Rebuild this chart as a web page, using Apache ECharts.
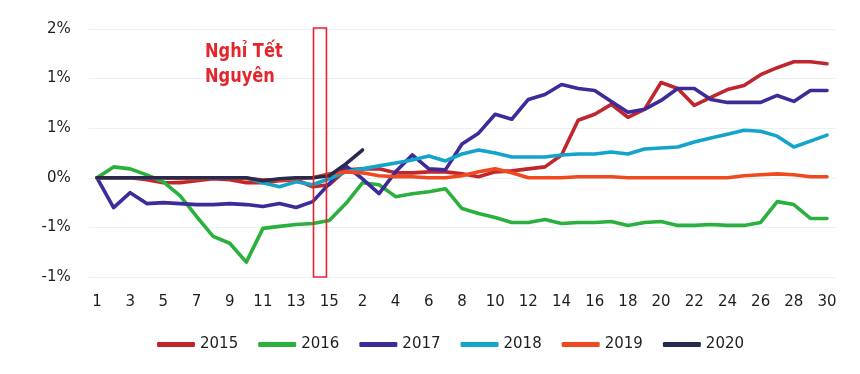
<!DOCTYPE html>
<html>
<head>
<meta charset="utf-8">
<script src="https://cdn.jsdelivr.net/npm/echarts@6/dist/echarts.min.js"></script>
<style>
  html, body { margin: 0; padding: 0; background: #ffffff; }
  #chart { width: 860px; height: 374px; }
</style>
</head>
<body>
<div id="chart"></div>
<script>
// Days before Tết (1..15) followed by days after Tết (1..30)
const daysBefore = ['1','2','3','4','5','6','7','8','9','10','11','12','13','14','15'];
const daysAfter = ['1','2','3','4','5','6','7','8','9','10','11','12','13','14','15',
                   '16','17','18','19','20','21','22','23','24','25','26','27','28','29','30'];
const categories = daysBefore.concat(daysAfter);

// y tick values (in %) and their printed labels (rounded to whole percent as in the source)
const yTickValues = [-1, -0.5, 0, 0.5, 1, 1.5];
const yTickLabels = ['-1%', '-1%', '0%', '1%', '1%', '2%'];

const seriesNames = ['2015', '2016', '2017', '2018', '2019', '2020'];

const v2015 = [0, 0, 0, -0.02, -0.05, -0.05, -0.03, -0.01, -0.02, -0.05, -0.05, -0.03, -0.02, -0.09, -0.07,
  0.08, 0.09, 0.09, 0.05, 0.05, 0.06, 0.06, 0.04, 0.01, 0.06, 0.07, 0.09, 0.11, 0.23, 0.58,
  0.64, 0.74, 0.61, 0.69, 0.96, 0.90, 0.73, 0.81, 0.89, 0.93, 1.04, 1.11, 1.17, 1.17, 1.15];
const v2016 = [0, 0.11, 0.09, 0.03, -0.04, -0.18, -0.39, -0.59, -0.66, -0.85, -0.51, -0.49, -0.47, -0.46, -0.43,
  -0.26, -0.05, -0.07, -0.19, -0.16, -0.14, -0.11, -0.31, -0.36, -0.40, -0.45, -0.45, -0.42, -0.46, -0.45,
  -0.45, -0.44, -0.48, -0.45, -0.44, -0.48, -0.48, -0.47, -0.48, -0.48, -0.45, -0.24, -0.27, -0.41, -0.41];
const v2017 = [0, -0.30, -0.15, -0.26, -0.25, -0.26, -0.27, -0.27, -0.26, -0.27, -0.29, -0.26, -0.30, -0.24, -0.06,
  0.12, -0.01, -0.16, 0.06, 0.23, 0.09, 0.08, 0.34, 0.45, 0.64, 0.59, 0.79, 0.84, 0.94, 0.90,
  0.88, 0.77, 0.66, 0.69, 0.78, 0.90, 0.90, 0.79, 0.76, 0.76, 0.76, 0.83, 0.77, 0.88, 0.88];
const v2018 = [0, 0, 0, 0, 0, 0, 0, 0, 0, 0, -0.05, -0.09, -0.04, -0.07, -0.01,
  0.06, 0.09, 0.12, 0.15, 0.18, 0.22, 0.17, 0.24, 0.28, 0.25, 0.21, 0.21, 0.21, 0.23, 0.24,
  0.24, 0.26, 0.24, 0.29, 0.30, 0.31, 0.36, 0.40, 0.44, 0.48, 0.47, 0.42, 0.31, 0.37, 0.43];
const v2019 = [0, 0, 0, 0, 0, -0.01, -0.01, 0, 0, -0.01, -0.02, -0.02, -0.01, 0, 0.04,
  0.06, 0.05, 0.02, 0.01, 0.01, 0.0, 0.0, 0.02, 0.06, 0.09, 0.05, 0.0, 0.0, 0.0, 0.01,
  0.01, 0.01, 0.0, 0.0, 0.0, 0.0, 0.0, 0.0, 0.0, 0.02, 0.03, 0.04, 0.03, 0.01, 0.01];
const v2020 = [0, 0, 0, 0, 0, 0, 0, 0, 0, 0, -0.03, -0.01, 0, 0, 0.02,
  0.14, 0.28];

const seriesValues = [v2015, v2016, v2017, v2018, v2019, v2020];
const seriesColors = ['#c0272d', '#2bb03d', '#3e2a98', '#12a4ca', '#ef4a1f', '#262a4e'];

const annotationLines = ['Nghỉ Tết', 'Nguyên'];

const chart = echarts.init(document.getElementById('chart'), null, { renderer: 'canvas' });
const baseFont = 'DejaVu Sans';

const option = {
  animation: false,
  backgroundColor: '#ffffff',
  grid: { left: 88.7, right: 24.7, top: 29, bottom: 97, containLabel: false },
  xAxis: {
    type: 'category',
    data: categories,
    boundaryGap: true,
    axisLine: { show: false },
    axisTick: { show: false },
    splitLine: { show: false },
    axisLabel: {
      interval: 1,
      margin: 18,
      color: '#1e1e1e',
      fontFamily: baseFont,
      fontSize: 15
    }
  },
  yAxis: {
    type: 'value',
    min: -1,
    max: 1.5,
    interval: 0.5,
    axisLine: { show: false },
    axisTick: { show: false },
    splitLine: { show: true, lineStyle: { color: '#e9f1f7', width: 1 } },
    axisLabel: {
      margin: 18,
      color: '#1e1e1e',
      fontFamily: baseFont,
      fontSize: 15,
      formatter: function (v) {
        const k = yTickValues.findIndex(t => Math.abs(t - v) < 1e-9);
        return k >= 0 ? yTickLabels[k] : '';
      }
    }
  },
  legend: {
    left: 152,
    top: 332,
    itemWidth: 38,
    itemHeight: 5,
    itemGap: 20,
    icon: 'roundRect',
    textStyle: { color: '#1e1e1e', fontFamily: baseFont, fontSize: 15 },
    data: seriesNames
  },
  series: seriesNames.map((name, k) => ({
    name: name,
    type: 'line',
    data: seriesValues[k],
    symbol: 'none',
    showSymbol: false,
    smooth: false,
    color: seriesColors[k],
    lineStyle: { width: 3.6, color: seriesColors[k], cap: 'round', join: 'round' },
    z: 2 + k
  }))
};

chart.setOption(option);

// Red box marking the Tết holiday and its label
const xA = chart.convertToPixel({ xAxisIndex: 0 }, 13);
const xB = chart.convertToPixel({ xAxisIndex: 0 }, 14);
const step = xB - xA;
const yTop = chart.convertToPixel({ yAxisIndex: 0 }, 1.5);
const yBot = chart.convertToPixel({ yAxisIndex: 0 }, -1);

chart.setOption({
  graphic: [
    {
      type: 'rect',
      shape: { x: xA + 0.05 * step, y: yTop - 1, width: 0.78 * step, height: yBot - yTop + 1 },
      style: { fill: 'none', stroke: '#e3262b', lineWidth: 1.6 },
      z: 50
    },
    {
      type: 'text',
      x: 205,
      y: 39,
      scaleX: 0.9,
      style: {
        text: annotationLines.join('\n'),
        fill: '#e3262b',
        font: 'bold 20px "DejaVu Sans Condensed", "DejaVu Sans", sans-serif',
        lineHeight: 25,
        textVerticalAlign: 'top',
        verticalAlign: 'top'
      },
      z: 50
    }
  ]
});
</script>
</body>
</html>
